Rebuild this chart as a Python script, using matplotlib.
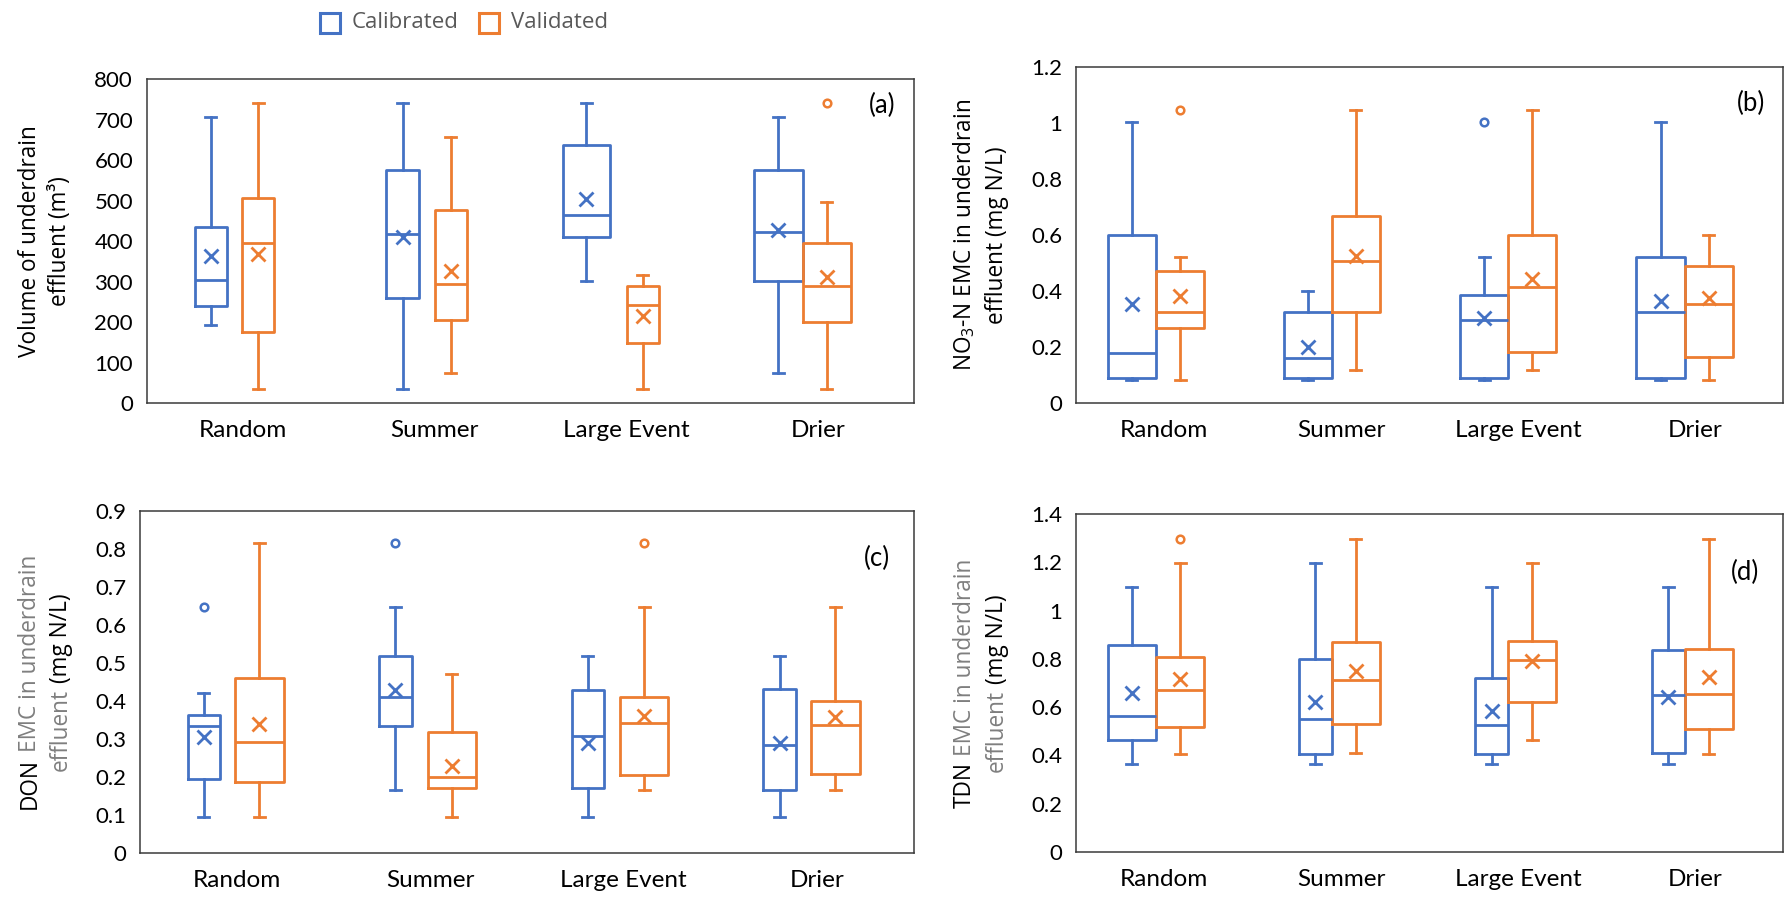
import matplotlib
matplotlib.use("Agg")
import matplotlib.pyplot as plt
from matplotlib.patches import Rectangle
from matplotlib.font_manager import FontProperties

W_PX, H_PX = 1787, 900

plt.rcParams["font.family"] = ["Lato", "DejaVu Sans"]
plt.rcParams["mathtext.fontset"] = "custom"
plt.rcParams["mathtext.rm"] = "Open Sans"
plt.rcParams["mathtext.default"] = "regular"

CATEGORIES = ["Random", "Summer", "Large Event", "Drier"]
SERIES = ["Calibrated", "Validated"]

# ---- (a) Volume of underdrain effluent (m3) ----
vol_cal_whislo = [193, 35, 302, 75]
vol_cal_q1 = [240, 260, 411, 302]
vol_cal_med = [303, 418, 465, 423]
vol_cal_q3 = [435, 576, 636, 576]
vol_cal_whishi = [705, 740, 740, 705]
vol_cal_mean = [363, 410, 504, 427]
vol_cal_fliers = [[], [], [], []]

vol_val_whislo = [35, 75, 35, 35]
vol_val_q1 = [175, 205, 148, 201]
vol_val_med = [394, 294, 241, 288]
vol_val_q3 = [506, 476, 290, 394]
vol_val_whishi = [740, 656, 317, 497]
vol_val_mean = [367, 325, 216, 310]
vol_val_fliers = [[], [], [], [740]]

# ---- (b) NO3-N EMC (mg N/L) ----
no3_cal_whislo = [0.081, 0.081, 0.081, 0.081]
no3_cal_q1 = [0.090, 0.090, 0.090, 0.090]
no3_cal_med = [0.180, 0.159, 0.295, 0.324]
no3_cal_q3 = [0.600, 0.324, 0.385, 0.520]
no3_cal_whishi = [1.005, 0.400, 0.520, 1.005]
no3_cal_mean = [0.355, 0.200, 0.304, 0.363]
no3_cal_fliers = [[], [], [1.005], []]

no3_val_whislo = [0.081, 0.119, 0.119, 0.081]
no3_val_q1 = [0.269, 0.324, 0.181, 0.164]
no3_val_med = [0.324, 0.506, 0.414, 0.355]
no3_val_q3 = [0.470, 0.667, 0.600, 0.490]
no3_val_whishi = [0.520, 1.047, 1.047, 0.600]
no3_val_mean = [0.381, 0.526, 0.443, 0.375]
no3_val_fliers = [[1.047], [], [], []]

# ---- (c) DON EMC (mg N/L) ----
don_cal_whislo = [0.096, 0.166, 0.096, 0.096]
don_cal_q1 = [0.195, 0.333, 0.171, 0.166]
don_cal_med = [0.333, 0.410, 0.308, 0.283]
don_cal_q3 = [0.362, 0.519, 0.429, 0.431]
don_cal_whishi = [0.420, 0.648, 0.519, 0.519]
don_cal_mean = [0.305, 0.429, 0.289, 0.289]
don_cal_fliers = [[0.648], [0.817], [], []]

don_val_whislo = [0.096, 0.096, 0.166, 0.166]
don_val_q1 = [0.186, 0.171, 0.206, 0.208]
don_val_med = [0.292, 0.201, 0.341, 0.337]
don_val_q3 = [0.460, 0.319, 0.410, 0.400]
don_val_whishi = [0.817, 0.470, 0.648, 0.648]
don_val_mean = [0.339, 0.229, 0.361, 0.359]
don_val_fliers = [[], [], [0.817], []]

# ---- (d) TDN EMC (mg N/L) ----
tdn_cal_whislo = [0.365, 0.365, 0.365, 0.365]
tdn_cal_q1 = [0.463, 0.404, 0.407, 0.412]
tdn_cal_med = [0.562, 0.551, 0.526, 0.649]
tdn_cal_q3 = [0.856, 0.798, 0.721, 0.837]
tdn_cal_whishi = [1.097, 1.195, 1.097, 1.097]
tdn_cal_mean = [0.660, 0.621, 0.585, 0.643]
tdn_cal_fliers = [[], [], [], []]

tdn_val_whislo = [0.404, 0.412, 0.462, 0.404]
tdn_val_q1 = [0.516, 0.530, 0.620, 0.510]
tdn_val_med = [0.671, 0.712, 0.797, 0.653]
tdn_val_q3 = [0.809, 0.870, 0.876, 0.840]
tdn_val_whishi = [1.195, 1.295, 1.195, 1.295]
tdn_val_mean = [0.715, 0.750, 0.793, 0.723]
tdn_val_fliers = [[1.295], [], [], []]

COLORS = {"Calibrated": "#4472C4", "Validated": "#ED7D31"}
GREY_TEXT = "#7F7F7F"


def make_stats(whislo, q1, med, q3, whishi, mean, fliers):
    return [dict(whislo=whislo[i], q1=q1[i], med=med[i], q3=q3[i],
                 whishi=whishi[i], mean=mean[i], fliers=fliers[i])
            for i in range(len(CATEGORIES))]


panels = [
    dict(
        key="a", rect=(147, 79, 914, 403), ylim=(0, 800), yticks=range(0, 801, 100),
        cal=make_stats(vol_cal_whislo, vol_cal_q1, vol_cal_med, vol_cal_q3,
                       vol_cal_whishi, vol_cal_mean, vol_cal_fliers),
        val=make_stats(vol_val_whislo, vol_val_q1, vol_val_med, vol_val_q3,
                       vol_val_whishi, vol_val_mean, vol_val_fliers),
        cal_span=[(0.251, 0.415), (1.248, 1.419), (2.167, 2.416), (3.164, 3.419)],
        val_span=[(0.497, 0.664), (1.500, 1.667), (2.503, 2.670), (3.419, 3.670)],
        letter_xy=(882, 105),
        ylabel=[(36, [("Volume of underdrain", "black")]),
                (66, [("effluent (m³)", "black")])],
    ),
    dict(
        key="b", rect=(1076, 67, 1783, 403), ylim=(0, 1.2),
        yticks=[0, 0.2, 0.4, 0.6, 0.8, 1.0, 1.2],
        cal=make_stats(no3_cal_whislo, no3_cal_q1, no3_cal_med, no3_cal_q3,
                       no3_cal_whishi, no3_cal_mean, no3_cal_fliers),
        val=make_stats(no3_val_whislo, no3_val_q1, no3_val_med, no3_val_q3,
                       no3_val_whishi, no3_val_mean, no3_val_fliers),
        cal_span=[(0.179, 0.451), (1.174, 1.446), (2.173, 2.444), (3.171, 3.443)],
        val_span=[(0.451, 0.726), (1.446, 1.721), (2.444, 2.716), (3.443, 3.715)],
        letter_xy=(1751, 103),
        ylabel=[(971, [("NO$_3$-N EMC in underdrain", "black")]),
                (1003, [("effluent (mg N/L)", "black")])],
    ),
    dict(
        key="c", rect=(140, 511, 914, 853), ylim=(0, 0.9),
        yticks=[0, 0.1, 0.2, 0.3, 0.4, 0.5, 0.6, 0.7, 0.8, 0.9],
        cal=make_stats(don_cal_whislo, don_cal_q1, don_cal_med, don_cal_q3,
                       don_cal_whishi, don_cal_mean, don_cal_fliers),
        val=make_stats(don_val_whislo, don_val_q1, don_val_med, don_val_q3,
                       don_val_whishi, don_val_mean, don_val_fliers),
        cal_span=[(0.247, 0.413), (1.235, 1.404), (2.231, 2.398), (3.222, 3.391)],
        val_span=[(0.493, 0.742), (1.487, 1.736), (2.481, 2.730), (3.468, 3.720)],
        letter_xy=(877, 558),
        ylabel=[(36, [("DON ", "black"), ("EMC in underdrain", GREY_TEXT)]),
                (67, [("effluent ", GREY_TEXT), ("(mg N/L)", "black")])],
    ),
    dict(
        key="d", rect=(1076, 514, 1783, 852), ylim=(0, 1.4),
        yticks=[0, 0.2, 0.4, 0.6, 0.8, 1.0, 1.2, 1.4],
        cal=make_stats(tdn_cal_whislo, tdn_cal_q1, tdn_cal_med, tdn_cal_q3,
                       tdn_cal_whishi, tdn_cal_mean, tdn_cal_fliers),
        val=make_stats(tdn_val_whislo, tdn_val_q1, tdn_val_med, tdn_val_q3,
                       tdn_val_whishi, tdn_val_mean, tdn_val_fliers),
        cal_span=[(0.179, 0.451), (1.263, 1.446), (2.259, 2.444), (3.260, 3.443)],
        val_span=[(0.451, 0.726), (1.446, 1.721), (2.444, 2.716), (3.443, 3.715)],
        letter_xy=(1745, 572),
        ylabel=[(971, [("TDN ", "black"), ("EMC in underdrain", GREY_TEXT)]),
                (1003, [("effluent ", GREY_TEXT), ("(mg N/L)", "black")])],
    ),
]

fig = plt.figure(figsize=(W_PX / 100, H_PX / 100), dpi=100)
renderer = fig.canvas.get_renderer()

LABEL_FONT = FontProperties(family="Open Sans", size=16.3)


def text_width(s, prop):
    w, _, _ = renderer.get_text_width_height_descent(s, prop, ismath="$" in s)
    return w


def rotated_label(x_img, yc_img, pieces, prop):
    """Vertical multi-colour label line; x_img is the baseline position."""
    full = "".join(t for t, _ in pieces)
    total = text_width(full, prop)
    y0 = (H_PX - yc_img) - total / 2
    m_w = text_width("M", prop)
    prefix = ""
    for txt, color in pieces:
        off = 0 if not prefix else text_width(prefix + "M", prop) - m_w
        fig.text(x_img / W_PX, (y0 + off) / H_PX, txt.strip(), rotation=90,
                 rotation_mode="anchor", ha="left", va="baseline",
                 color=color, fontproperties=prop)
        prefix += txt


def draw_series(ax, stats, spans, color, cap_w):
    pos = [(l + r) / 2 for l, r in spans]
    wid = [r - l for l, r in spans]
    lw = 2.0
    ax.bxp(stats, positions=pos, widths=wid, capwidths=[cap_w] * len(pos),
           showmeans=True, showfliers=True, patch_artist=False,
           boxprops=dict(color=color, linewidth=lw),
           whiskerprops=dict(color=color, linewidth=lw),
           capprops=dict(color=color, linewidth=lw),
           medianprops=dict(color=color, linewidth=lw),
           meanprops=dict(marker="x", markersize=10.5, markeredgewidth=2.0,
                          markeredgecolor=color, markerfacecolor=color,
                          linestyle="none"),
           flierprops=dict(marker="o", markersize=5.5, markeredgewidth=1.8,
                           markeredgecolor=color, markerfacecolor="none",
                           linestyle="none"))


for p in panels:
    l, t, r, b = p["rect"]
    ax = fig.add_axes([l / W_PX, (H_PX - b) / H_PX, (r - l) / W_PX, (b - t) / H_PX])
    cap_w = 11 / (r - l) * 4
    draw_series(ax, p["cal"], p["cal_span"], COLORS["Calibrated"], cap_w)
    draw_series(ax, p["val"], p["val_span"], COLORS["Validated"], cap_w)

    ax.set_xlim(0, 4)
    ax.set_ylim(*p["ylim"])
    ax.set_xticks([i + 0.5 for i in range(len(CATEGORIES))])
    ax.set_xticklabels(CATEGORIES, fontsize=17.5, family="Lato")
    ax.set_yticks(list(p["yticks"]))
    ax.set_yticklabels([f"{v:g}" for v in p["yticks"]], fontsize=16, family="Lato")
    ax.tick_params(axis="both", length=0, colors="black")
    ax.tick_params(axis="x", pad=12)
    ax.tick_params(axis="y", pad=10)
    for s in ax.spines.values():
        s.set_color("#3a3a3a")
        s.set_linewidth(1.1)

    lx, ly = p["letter_xy"]
    fig.text(lx / W_PX, (H_PX - ly) / H_PX, f"({p['key']})", ha="center",
             va="center", fontsize=18.5, family="Lato", color="black")

    yc = (t + b) / 2
    for x_base, pieces in p["ylabel"]:
        rotated_label(x_base, yc, pieces, LABEL_FONT)

# Legend across the top
legend_items = [("Calibrated", 320, 352), ("Validated", 479, 511)]
for name, sx, tx in legend_items:
    fig.patches.append(Rectangle((sx / W_PX, (H_PX - 33) / H_PX), 20 / W_PX, 20 / H_PX,
                                 transform=fig.transFigure, fill=False,
                                 edgecolor=COLORS[name], linewidth=2.2))
    fig.text(tx / W_PX, (H_PX - 23) / H_PX, name, ha="left", va="center",
             fontproperties=FontProperties(family="Open Sans", size=16),
             color="#595959")

fig.savefig("out.png", dpi=100)
